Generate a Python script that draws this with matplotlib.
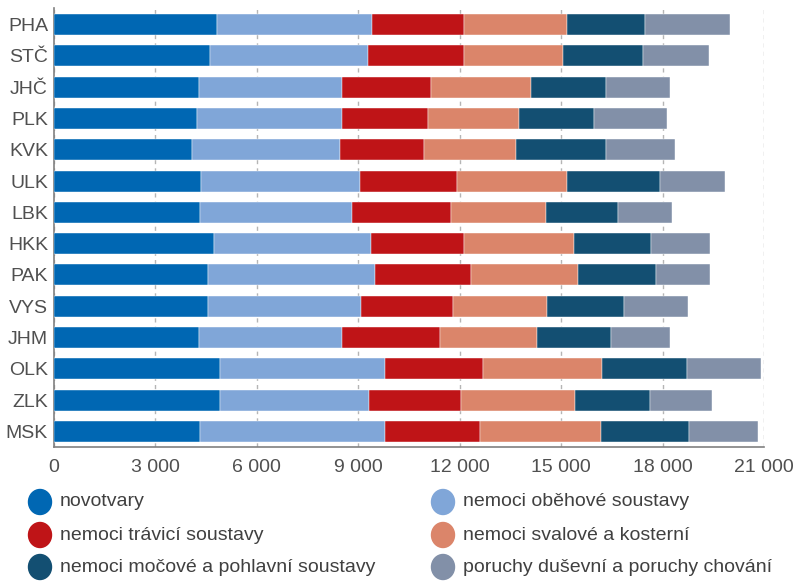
import matplotlib
matplotlib.use("Agg")
import matplotlib.pyplot as plt
from matplotlib.patches import Ellipse
from matplotlib.ticker import FuncFormatter
import numpy as np

plt.rcParams['font.family'] = ['Liberation Sans Narrow', 'Liberation Sans', 'DejaVu Sans']

regions = ["PHA", "STČ", "JHČ", "PLK", "KVK", "ULK", "LBK", "HKK", "PAK", "VYS", "JHM", "OLK", "ZLK", "MSK"]
novotvary = [4818, 4629, 4304, 4245, 4088, 4354, 4325, 4739, 4561, 4561, 4304, 4907, 4916, 4325]
obehove = [4591, 4671, 4227, 4268, 4375, 4709, 4502, 4641, 4937, 4532, 4209, 4895, 4413, 5459]
travici = [2728, 2820, 2622, 2542, 2492, 2867, 2908, 2740, 2847, 2701, 2897, 2888, 2720, 2809]
svalove = [3036, 2926, 2965, 2708, 2702, 3234, 2809, 3269, 3144, 2797, 2867, 3527, 3370, 3594]
mocove = [2297, 2383, 2217, 2217, 2669, 2749, 2146, 2276, 2324, 2258, 2188, 2494, 2208, 2593]
dusevni = [2513, 1951, 1892, 2149, 2040, 1931, 1596, 1745, 1578, 1901, 1753, 2188, 1832, 2048]

series_names = ["novotvary", "nemoci oběhové soustavy", "nemoci trávicí soustavy",
                "nemoci svalové a kosterní", "nemoci močové a pohlavní soustavy",
                "poruchy duševní a poruchy chování"]
series = [novotvary, obehove, travici, svalove, mocove, dusevni]
colors = ["#0067b3", "#80a6d8", "#bf1417", "#db856a", "#134f72", "#8290a8"]
xticks = [0, 3000, 6000, 9000, 12000, 15000, 18000, 21000]

fig = plt.figure(figsize=(8, 5.88), dpi=100)
ax = fig.add_axes([0.067, 0.2398, 0.888, 0.7466])

y = np.arange(len(regions))
left = np.zeros(len(regions))
for vals, col, name in zip(series, colors, series_names):
    v = np.array(vals, dtype=float)
    ax.barh(y, v, left=left, height=0.67, color=col, label=name, zorder=3,
            edgecolor='white', linewidth=0.3)
    left += v

ax.set_xlim(0, 21000)
ax.set_ylim(len(regions) - 0.5, -0.53)
ax.set_yticks(y)
ax.set_yticklabels(regions)
ax.set_xticks(xticks)
ax.xaxis.set_major_formatter(FuncFormatter(lambda v, p: f"{int(v):,}".replace(",", " ")))
ax.tick_params(axis='both', length=0, labelsize=14, colors='#505050')
ax.tick_params(axis='y', pad=4)
ax.tick_params(axis='x', pad=9)
ax.grid(axis='x', color='#b5b5b5', linestyle=(0, (3, 3)), linewidth=1, zorder=0)
for s in ['top', 'right']:
    ax.spines[s].set_visible(False)
for s in ['left', 'bottom']:
    ax.spines[s].set_color('#808080')
    ax.spines[s].set_linewidth(1.2)

# legend
lax = fig.add_axes([0, 0, 1, 1], facecolor='none')
lax.set_xlim(0, 800)
lax.set_ylim(588, 0)
lax.axis('off')
pos = [(40, 502), (443, 502), (40, 535), (443, 535), (40, 567), (443, 567)]
for (px, py), col, name in zip(pos, colors, series_names):
    lax.add_patch(Ellipse((px, py), 23, 25, color=col))
    lax.text(px + 20, py, name, va='center', ha='left', fontsize=14, color='#404040')

fig.savefig("out.png", dpi=100)
